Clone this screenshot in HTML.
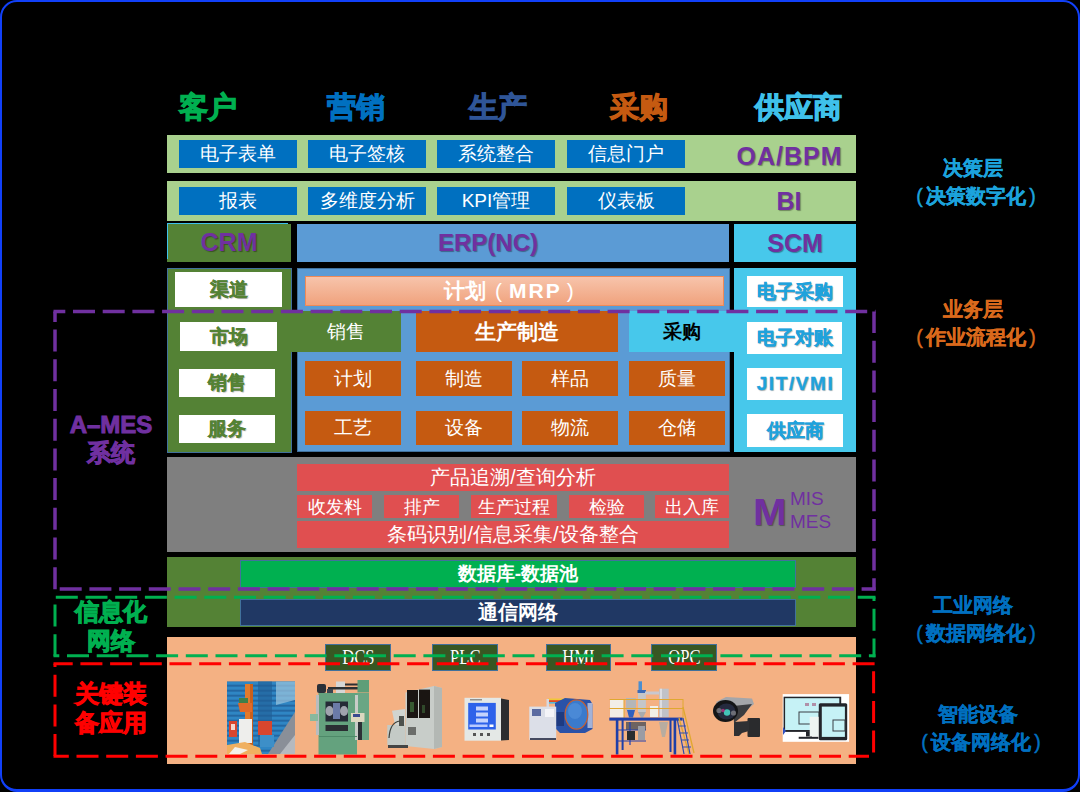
<!DOCTYPE html>
<html><head><meta charset="utf-8">
<style>
*{margin:0;padding:0;box-sizing:border-box}
html,body{width:1080px;height:792px;overflow:hidden;background:#000}
body{position:relative;font-family:"Liberation Sans",sans-serif}
.a{position:absolute}
.c{position:absolute;display:flex;align-items:center;justify-content:center;white-space:nowrap}
#frame{left:0;top:0;width:1080px;height:792px;border:2px solid #1140f8;border-bottom-width:3px;border-radius:17px}
.hd{font-size:29px;font-weight:bold;height:36px;top:90px;-webkit-text-stroke:1.1px currentColor}
.lg{background:#a9d18e}
.bc{background:#0070c0;color:#fff;font-size:19px;height:28px}
.pt{color:#7030a0;font-weight:bold;text-shadow:1px 1px 1px rgba(0,0,0,.35)}
.wb{background:#fff;font-weight:bold;font-size:19px;text-shadow:1px 1px 1px rgba(0,0,0,.3);-webkit-text-stroke:.4px currentColor}
.oc{background:#c55a11;color:#fff;font-size:19px}
.rb{background:#e04f50;color:#fff;font-size:17.5px}
.dcs{background:#385723;border:1px solid #41719c;color:#fff;font-family:"Liberation Serif",serif;font-size:20px}
.dcs span{display:inline-block;transform:scaleX(.83)}
.rl{font-weight:bold;font-size:19.5px;line-height:27.6px;text-align:center;white-space:nowrap;-webkit-text-stroke:0.4px currentColor}
.ll{font-weight:bold;font-size:24px;text-align:center;white-space:nowrap;-webkit-text-stroke:1px currentColor}
.p{display:inline-block;width:13px;font-weight:normal}
</style></head><body>
<div id="frame" class="a"></div>

<!-- headings -->
<div class="c hd" style="left:169px;width:78px;color:#00b050">客户</div>
<div class="c hd" style="left:317px;width:78px;color:#0070c0">营销</div>
<div class="c hd" style="left:459px;width:78px;color:#2f5597">生产</div>
<div class="c hd" style="left:600px;width:78px;color:#c55a11">采购</div>
<div class="c hd" style="left:749px;width:98px;color:#3fc1ea">供应商</div>

<!-- row 1 -->
<div class="a lg" style="left:167px;top:135px;width:689px;height:38px"></div>
<div class="c bc" style="left:179px;top:140px;width:118px">电子表单</div>
<div class="c bc" style="left:308px;top:140px;width:118px">电子签核</div>
<div class="c bc" style="left:437px;top:140px;width:118px">系统整合</div>
<div class="c bc" style="left:567px;top:140px;width:118px">信息门户</div>
<div class="c pt" style="left:730px;top:137px;width:118px;height:38px;font-size:25px;letter-spacing:1px;padding-left:1px">OA/BPM</div>

<!-- row 2 -->
<div class="a lg" style="left:167px;top:181px;width:689px;height:40px"></div>
<div class="c bc" style="left:179px;top:187px;width:118px">报表</div>
<div class="c bc" style="left:308px;top:187px;width:118px">多维度分析</div>
<div class="c bc" style="left:437px;top:187px;width:118px">KPI管理</div>
<div class="c bc" style="left:567px;top:187px;width:118px">仪表板</div>
<div class="c pt" style="left:730px;top:181px;width:118px;height:40px;font-size:25px">BI</div>

<!-- row 3 -->
<div class="a" style="left:167px;top:224px;width:124px;height:38px;background:#548235"></div>
<div class="a" style="left:167px;top:223px;width:121px;height:1px;background:#3fc1ea"></div>
<div class="a" style="left:167px;top:223px;width:1px;height:36px;background:#3fc1ea"></div>
<div class="c pt" style="left:167px;top:223px;width:124px;height:39px;font-size:25px">CRM</div>
<div class="a" style="left:297px;top:224px;width:432px;height:38px;background:#5b9bd5"></div>
<div class="c pt" style="left:388px;top:224px;width:200px;height:38px;font-size:24px">ERP(NC)</div>
<div class="c pt" style="left:734px;top:224px;width:122px;height:38px;background:#47c8eb;font-size:25px">SCM</div>

<!-- CRM lower panel -->
<div class="a" style="left:167px;top:268px;width:125px;height:185px;background:#548235;border:1px solid #41719c"></div>
<!-- ERP lower panel -->
<div class="a" style="left:297px;top:268px;width:433px;height:184px;background:#5b9bd5;border:1px solid #41719c"></div>
<!-- SCM lower panel -->
<div class="a" style="left:734px;top:268px;width:122px;height:184px;background:#47c8eb"></div>

<!-- band overlays -->
<div class="c" style="left:291px;top:311px;width:110px;height:41px;background:#548235;color:#fff;font-size:19px">销售</div>
<div class="c" style="left:416px;top:311px;width:202px;height:41px;background:#c55a11;color:#fff;font-size:21px;font-weight:bold">生产制造</div>
<div class="a" style="left:629px;top:311px;width:106px;height:41px;background:#47c8eb"></div>
<div class="c" style="left:629px;top:311px;width:106px;height:41px;color:#000;font-size:19px;font-weight:bold">采购</div>

<!-- salmon MRP -->
<div class="a" style="left:305px;top:276px;width:419px;height:30px;background:linear-gradient(#f7c4ab,#f0a27d);border:1px solid #ee8a58"></div>
<div class="a" style="left:444px;top:276px;height:29px;line-height:29px;color:#fff;font-size:21px;font-weight:bold;white-space:nowrap">计划<span style="display:inline-block;margin:0 7px 0 9px;font-weight:normal">(</span><span style="letter-spacing:2px">MRP</span><span style="display:inline-block;margin-left:5px;font-weight:normal">)</span></div>

<!-- orange cells -->
<div class="c oc" style="left:305px;top:361px;width:96px;height:35px">计划</div>
<div class="c oc" style="left:416px;top:361px;width:96px;height:35px">制造</div>
<div class="c oc" style="left:522px;top:361px;width:96px;height:35px">样品</div>
<div class="c oc" style="left:629px;top:361px;width:96px;height:35px">质量</div>
<div class="c oc" style="left:305px;top:411px;width:96px;height:34px">工艺</div>
<div class="c oc" style="left:416px;top:411px;width:96px;height:34px">设备</div>
<div class="c oc" style="left:522px;top:411px;width:96px;height:34px">物流</div>
<div class="c oc" style="left:629px;top:411px;width:96px;height:34px">仓储</div>

<!-- CRM white boxes -->
<div class="c wb" style="left:175px;top:272px;width:107px;height:35px;color:#548235">渠道</div>
<div class="c wb" style="left:180px;top:322px;width:97px;height:29px;color:#548235">市场</div>
<div class="c wb" style="left:179px;top:369px;width:96px;height:28px;color:#548235">销售</div>
<div class="c wb" style="left:179px;top:415px;width:96px;height:28px;color:#548235">服务</div>

<!-- SCM white boxes -->
<div class="c wb" style="left:747px;top:276px;width:96px;height:31px;color:#1fa2dc">电子采购</div>
<div class="c wb" style="left:747px;top:322px;width:95px;height:32px;color:#1fa2dc">电子对账</div>
<div class="c wb" style="left:747px;top:368px;width:95px;height:32px;color:#1fa2dc;letter-spacing:1.6px;padding-left:2px">JIT/VMI</div>
<div class="c wb" style="left:747px;top:414px;width:96px;height:33px;color:#1fa2dc">供应商</div>

<!-- gray MES -->
<div class="a" style="left:167px;top:457px;width:689px;height:95px;background:#7f7f7f"></div>
<div class="c rb" style="left:297px;top:464px;width:432px;height:27px;font-size:19.5px">产品追溯/查询分析</div>
<div class="c rb" style="left:297px;top:495px;width:75px;height:23px">收发料</div>
<div class="c rb" style="left:384px;top:495px;width:75px;height:23px">排产</div>
<div class="c rb" style="left:471px;top:495px;width:86px;height:23px">生产过程</div>
<div class="c rb" style="left:569px;top:495px;width:75px;height:23px">检验</div>
<div class="c rb" style="left:655px;top:495px;width:74px;height:23px">出入库</div>
<div class="c rb" style="left:297px;top:521px;width:432px;height:27px;font-size:20px">条码识别/信息采集/设备整合</div>
<div class="a pt" style="left:753px;top:493px;font-size:36px;line-height:40px;transform:scaleX(1.12);transform-origin:0 0">M</div>
<div class="a" style="left:790px;top:488px;font-size:19px;line-height:22.5px;color:#7030a0">MIS<br>MES</div>

<!-- green band -->
<div class="a" style="left:167px;top:557px;width:689px;height:70px;background:#548235"></div>
<div class="c" style="left:240px;top:560px;width:556px;height:28px;background:#00b050;border:1px solid #41719c;color:#fff;font-weight:bold;font-size:19px">数据库-数据池</div>
<div class="c" style="left:240px;top:599px;width:556px;height:27px;background:#203864;border:1px solid #41719c;color:#fff;font-weight:bold;font-size:19.5px">通信网络</div>

<!-- salmon lower -->
<div class="a" style="left:167px;top:637px;width:689px;height:127px;background:#f4b183"></div>
<div class="c dcs" style="left:325px;top:644px;width:66px;height:27px"><span>DCS</span></div>
<div class="c dcs" style="left:432px;top:644px;width:66px;height:27px"><span>PLC</span></div>
<div class="c dcs" style="left:546px;top:644px;width:65px;height:27px"><span>HMI</span></div>
<div class="c dcs" style="left:651px;top:644px;width:66px;height:27px"><span>OPC</span></div>

<svg class="a" style="left:0;top:0" width="1080" height="792">
<!-- 1 warehouse -->
<g>
<rect x="227" y="681.5" width="68" height="72.5" fill="#2f86c4"/>
<rect x="227" y="681.5" width="68" height="72.5" fill="url(#shelf)"/>
<polygon points="258,681.5 272,681.5 272,740 258,745" fill="#1f5e95" opacity=".6"/>
<polygon points="276,681.5 295,681.5 295,700 276,705" fill="#9cc6de" opacity=".7"/>
<polygon points="268,754 295,712 295,754" fill="#8a8f98"/>
<polygon points="280,754 295,735 295,754" fill="#b5b9bf"/>
<rect x="245" y="684" width="5" height="62" fill="#e27a2c"/>
<rect x="250" y="684" width="3" height="62" fill="#c9601c"/>
<polygon points="238,703 252,703 252,712 240,712" fill="#e06a2a"/>
<rect x="239" y="698" width="9" height="5" fill="#3f7f4a"/>
<rect x="229" y="721" width="8" height="16" fill="#d8462e"/>
<rect x="231" y="724" width="4" height="6" fill="#f3d9d0"/>
<rect x="258" y="721" width="14" height="14" fill="#d8462e"/>
<rect x="239" y="719" width="13" height="24" fill="#eeeeec"/>
<rect x="260" y="735" width="14" height="12" fill="#3d8fc8"/>
<polygon points="227,754 227,745 245,742 260,748 262,754" fill="#f0b060"/>
<polygon points="229,754 235,747 248,750 240,754" fill="#f4f1ea"/>
</g>
<!-- 2 green machine -->
<g>
<rect x="336" y="681.5" width="9" height="12" fill="#d6d6d6"/>
<rect x="328" y="687" width="30" height="2.5" fill="#2c2f33"/>
<rect x="345" y="683.5" width="13" height="2" fill="#2c2f33"/>
<rect x="317" y="684" width="9" height="9" rx="2" fill="#2a3038"/>
<rect x="327" y="689" width="6" height="4" fill="#3a4450"/>
<rect x="357.5" y="680" width="11.5" height="12.5" fill="#5e9e78"/>
<rect x="318.5" y="693" width="38.5" height="61.5" fill="#64a27e"/>
<rect x="316" y="695" width="3" height="40" fill="#b9bcbf"/>
<rect x="357" y="693" width="12" height="47" fill="#6aa684"/>
<rect x="355" y="695" width="3" height="45" fill="#c8ccc8"/>
<rect x="310" y="714" width="8" height="7" fill="#88b89e"/>
<rect x="325.5" y="701.5" width="22.5" height="20" fill="#252a36"/>
<ellipse cx="329.5" cy="711" rx="4" ry="5" fill="#a0a3ae"/>
<ellipse cx="344" cy="711" rx="4" ry="5" fill="#a0a3ae"/>
<rect x="333" y="703" width="7" height="16" fill="#6b7aa8"/>
<rect x="325.5" y="725" width="22.5" height="6" fill="#2a2e33"/>
<rect x="351" y="713" width="13.5" height="9" fill="#ddd8c0"/>
<rect x="353" y="714" width="7" height="3" fill="#3a4a90"/>
<rect x="358" y="722" width="4" height="18" fill="#2c3136"/>
<rect x="319" y="736" width="38" height="1" fill="#4e8a69"/>
</g>
<!-- 3 gray machine -->
<g>
<polygon points="405.5,692.5 434,686 442,688 442,747 434,749 405.5,746" fill="#c8cdc9"/>
<polygon points="434,686 442,688 442,747 434,749" fill="#b3b8b4"/>
<rect x="407" y="690" width="11" height="28" fill="#1a1512"/>
<rect x="419" y="689.6" width="11" height="28.4" fill="#1a1512"/>
<rect x="410" y="702" width="4" height="10" fill="#3f6a3a" opacity=".8"/>
<rect x="422" y="705" width="3" height="8" fill="#3f6a3a" opacity=".6"/>
<rect x="387.3" y="725" width="18.2" height="20" fill="#c4cac6"/>
<polygon points="392,710.7 405,709 405,725 395,725" fill="#d0d4d0"/>
<rect x="399" y="716" width="5" height="10" fill="#4d514d"/>
<path d="M389 738 Q390 722 400 721" stroke="#3d413d" stroke-width="1.2" fill="none"/>
<rect x="408" y="727" width="8" height="8" fill="#6b6d6a"/>
<rect x="388" y="745" width="20" height="3" fill="#444"/>
</g>
<!-- 4 meter -->
<g>
<polygon points="501,698.5 509,700 509,740 501,740.4" fill="#2b2d2f"/>
<rect x="464.5" y="697.8" width="36.5" height="42.9" fill="#e4e8e6"/>
<rect x="468.2" y="702.9" width="27.6" height="26.6" fill="#2d62ea"/>
<rect x="476" y="706.5" width="12" height="4" fill="#dfe8ff" opacity=".85"/>
<rect x="476" y="712.5" width="12" height="4" fill="#dfe8ff" opacity=".85"/>
<rect x="476" y="718.5" width="12" height="4" fill="#dfe8ff" opacity=".85"/>
<rect x="469.5" y="724.5" width="18" height="2.5" fill="#b7c9ff"/>
<rect x="489.5" y="724.5" width="4" height="2.5" fill="#ffffff"/>
<rect x="473" y="733" width="3" height="3" fill="#555"/>
<rect x="480" y="733" width="3" height="3" fill="#555"/>
<rect x="487" y="733" width="3" height="3" fill="#555"/>
<rect x="470" y="699" width="12" height="1.5" fill="#555" opacity=".6"/>
</g>
<!-- 5 oven -->
<g>
<rect x="548" y="698.5" width="22" height="1.6" fill="#f0c838"/>
<rect x="548" y="700.2" width="22" height="1.8" fill="#e04a20"/>
<rect x="548" y="702" width="18" height="1.6" fill="#58b8d8"/>
<rect x="546.5" y="699" width="2.5" height="9" fill="#d8d8e0"/>
<polygon points="555,703 565,698 590,700 592.5,704 592.5,729 585,733 560,733 555,728" fill="#2a52a8"/>
<rect x="587.5" y="703" width="5" height="25" fill="#c0cae4" opacity=".8"/>
<rect x="556" y="712" width="8" height="14" fill="#1a3070" opacity=".7"/>
<ellipse cx="576.5" cy="714.5" rx="11.3" ry="14.6" fill="#3a7acc" stroke="#c86030" stroke-width="1.2"/>
<ellipse cx="575" cy="711" rx="7" ry="8" fill="#5a98e0" opacity=".5"/>
<rect x="529.3" y="706.6" width="26.9" height="33.2" fill="#dcdfe8"/>
<rect x="532" y="709" width="9" height="7" fill="#5a6aa0"/>
<rect x="545" y="709" width="9" height="8" fill="#f4f4f8"/>
<rect x="530" y="738" width="26" height="2" fill="#454a60"/>
</g>
<!-- 6 plant -->
<g>
<rect x="610" y="700" width="14" height="17.5" fill="#f2eee6"/>
<rect x="626" y="698" width="10" height="12" fill="#b4b6b8"/>
<polygon points="627,710 635,710 633,717.5 629,717.5" fill="#2f60c0"/>
<rect x="638.5" y="681.3" width="3.5" height="9" fill="#4a8ed0"/>
<rect x="637.5" y="690" width="8.5" height="3" fill="#3a6ab8"/>
<rect x="638" y="693" width="7.9" height="19" fill="#c4c6ca"/>
<polygon points="638,712 645.9,712 643,717.5 641,717.5" fill="#a8aaae"/>
<rect x="645" y="691.5" width="14" height="3" fill="#c8c8d0"/>
<rect x="659.1" y="688.7" width="9.6" height="28.5" fill="#c0c2c8"/>
<rect x="660" y="688.7" width="2" height="28.5" fill="#e8e8ec" opacity=".7"/>
<rect x="650" y="706" width="8" height="11" fill="#f0efe8"/>
<path d="M609.5 699.5 H683 M609.5 708.5 H683 M624 699 V718 M683 699 V718" stroke="#e0a830" stroke-width="1"/>
<rect x="609.3" y="717.6" width="73.2" height="3" fill="#1e3fa8"/>
<rect x="615.8" y="720" width="2.6" height="34.5" fill="#1e3fa8"/>
<rect x="621.6" y="720" width="2" height="30" fill="#1e3fa8"/>
<rect x="669.5" y="720" width="2" height="32" fill="#1e3fa8"/>
<rect x="673.6" y="720" width="2.6" height="34.5" fill="#1e3fa8"/>
<rect x="626" y="722" width="20" height="8" fill="#55565c" opacity=".85"/>
<path d="M616 730 H646 M616 741 H646 M630 722 V745" stroke="#2040b0" stroke-width="1.2"/>
<rect x="627" y="731" width="8" height="9" fill="#2a2c30"/>
<rect x="638" y="726" width="7" height="14" fill="#9a9ca4"/>
<polygon points="659,722 668,722 665,737 662,737" fill="#b8aca0"/>
<path d="M683 707 L694 753 M679 718 L689 754" stroke="#e0a830" stroke-width="1.3"/>
<path d="M677 718 L684 754 M683 718 L690 754" stroke="#2848b0" stroke-width="1.2"/>
<path d="M678 726 H686 M679 733 H688 M681 740 H689 M682 747 H691" stroke="#3050b0" stroke-width="1"/>
</g>
<!-- 7 camera -->
<g>
<rect x="747.5" y="718" width="12.5" height="19" rx="1" fill="#2a2b2d"/>
<polygon points="734,722 749,721 749,731 742,733 739,736 734,736" fill="#2f3033"/>
<polygon points="716,702 726,697 752,698.5 754,704 740,716 728,721" fill="#a4a6aa"/>
<polygon points="733,706 752,704 744,715 734,723" fill="#3c3d40"/>
<ellipse cx="725.5" cy="711" rx="12.5" ry="11" fill="#141517"/>
<ellipse cx="726.5" cy="711.5" rx="9" ry="8" fill="#252a3e"/>
<circle cx="727" cy="712.5" r="3.2" fill="#48d4c6" opacity=".9"/>
<circle cx="723" cy="710.5" r="1.8" fill="#b03080" opacity=".85"/>
<circle cx="719" cy="710.5" r="2.6" fill="#8c8c90" opacity=".7"/>
<circle cx="733.5" cy="713" r="2.6" fill="#8c8c90" opacity=".7"/>
</g>
<!-- 8 monitors -->
<g>
<rect x="782.7" y="694.1" width="66.4" height="47.7" fill="#ffffff"/>
<rect x="783.6" y="696.7" width="57.6" height="35.2" fill="#23252b"/>
<rect x="785.1" y="698.2" width="54.2" height="31.8" fill="#c6f2f6"/>
<rect x="806" y="731.5" width="6" height="5" fill="#23252b"/>
<rect x="798.7" y="736.8" width="19.7" height="2" fill="#23252b"/>
<rect x="799" y="712" width="20" height="12" fill="none" stroke="#3a3f45" stroke-width="1"/>
<rect x="805" y="703" width="4" height="3" fill="#b090a8"/>
<rect x="812" y="703" width="4" height="3" fill="#b090a8"/>
<rect x="809.7" y="716.8" width="10.3" height="19.3" fill="#eef4f2"/>
<rect x="818.8" y="703.2" width="28.4" height="37.1" rx="1.5" fill="#23252b"/>
<rect x="821.8" y="706.6" width="23.1" height="30.3" fill="#c6f2f6"/>
<rect x="833" y="720" width="12" height="11" fill="none" stroke="#3a3f45" stroke-width="1"/>
<polygon points="783,727 786,731 783,735" fill="#3050c0"/>
</g>
<defs>
<pattern id="shelf" width="68" height="5" patternUnits="userSpaceOnUse" x="227" y="681.5">
<rect x="0" y="3.5" width="68" height="1.5" fill="#1a4f86" opacity=".75"/>
</pattern>
</defs>
</svg>


<!-- left labels -->
<div class="a ll" style="left:56px;top:411px;width:110px;color:#7030a0;line-height:28px">A–MES<br>系统</div>
<div class="a ll" style="left:56px;top:597px;width:110px;color:#00b050;line-height:29px">信息化<br>网络</div>
<div class="a ll" style="left:56px;top:679px;width:110px;color:#ff0000;line-height:29px">关键装<br>备应用</div>

<!-- right labels -->
<div class="a rl" style="left:913px;top:155px;width:120px;color:#1ca3dc">决策层<br><span class="p">(</span>决策数字化<span class="p">)</span></div>
<div class="a rl" style="left:913px;top:296px;width:120px;color:#d9691c">业务层<br><span class="p">(</span>作业流程化<span class="p">)</span></div>
<div class="a rl" style="left:913px;top:592px;width:120px;color:#0070c0">工业网络<br><span class="p">(</span>数据网络化<span class="p">)</span></div>
<div class="a rl" style="left:918px;top:701px;width:120px;color:#0070c0">智能设备<br><span class="p">(</span>设备网络化<span class="p">)</span></div>

<!-- dashed boxes -->
<svg class="a" style="left:0;top:0" width="1080" height="792" fill="none" stroke-dasharray="22 7.7">
<line x1="53.5" y1="311.5" x2="875.5" y2="311.5" stroke="#7030a0" stroke-width="3.5" stroke-dashoffset="10.2"/>
<line x1="874" y1="311.5" x2="874" y2="590.5" stroke="#7030a0" stroke-width="3.5" stroke-dashoffset="0.5"/>
<line x1="53.5" y1="589" x2="875.5" y2="589" stroke="#7030a0" stroke-width="3.5" stroke-dashoffset="23.5"/>
<line x1="55" y1="311.5" x2="55" y2="590.5" stroke="#7030a0" stroke-width="3.5" stroke-dashoffset="11.6"/>
<line x1="53.5" y1="597.3" x2="875.5" y2="597.3" stroke="#00b050" stroke-width="3" stroke-dashoffset="27.4"/>
<line x1="53.5" y1="655.7" x2="875.5" y2="655.7" stroke="#00b050" stroke-width="3" stroke-dashoffset="16.2"/>
<line x1="55" y1="597.3" x2="55" y2="657.2" stroke="#00b050" stroke-width="3" stroke-dashoffset="22.5"/>
<line x1="874" y1="597.3" x2="874" y2="657.2" stroke="#00b050" stroke-width="3" stroke-dashoffset="18.2"/>
<line x1="53.5" y1="663.7" x2="875.5" y2="663.7" stroke="#ff0000" stroke-width="3" stroke-dashoffset="2.8"/>
<line x1="53.5" y1="756.2" x2="869" y2="756.2" stroke="#ff0000" stroke-width="3" stroke-dashoffset="6.7"/>
<line x1="55" y1="663.7" x2="55" y2="757.5" stroke="#ff0000" stroke-width="3" stroke-dashoffset="18.7"/>
<line x1="873.6" y1="663.7" x2="873.6" y2="753" stroke="#ff0000" stroke-width="3" stroke-dashoffset="22.2"/>
</svg>
</body></html>
